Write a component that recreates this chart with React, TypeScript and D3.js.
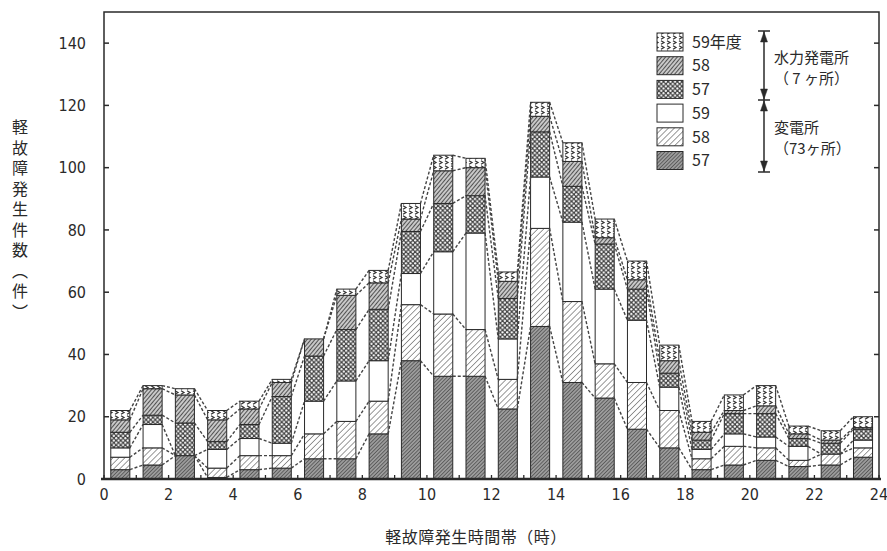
import * as d3 from 'd3';

// hour slots 0..23 (bar i covers i:00 - i+1:00)
const hours = [0, 1, 2, 3, 4, 5, 6, 7, 8, 9, 10, 11, 12, 13, 14, 15, 16, 17, 18, 19, 20, 21, 22, 23];
const xTicks = [0, 2, 4, 6, 8, 10, 12, 14, 16, 18, 20, 22, 24];
const yTicks = [0, 20, 40, 60, 80, 100, 120, 140];

// 変電所 (substations), fiscal 57 / 58 / 59
const sub57 = [3, 4.5, 7.5, 0.5, 3, 3.5, 6.5, 6.5, 14.5, 38, 33, 33, 22.5, 49, 31, 26, 16, 10, 3, 4.5, 6, 4, 4.5, 7];
const sub58 = [4, 5.5, 0, 3, 4.5, 4, 8, 12, 10.5, 18, 20, 15, 9.5, 31.5, 26, 11, 15, 12, 3.5, 6, 4, 2, 3.5, 3];
const sub59 = [3, 7.5, 0, 6, 5.5, 4, 10.5, 13, 13, 10, 20, 31, 13, 16.5, 25.5, 24, 20, 7.5, 3, 4, 3.5, 4.5, 0, 2.5];
// 水力発電所 (hydro plants), fiscal 57 / 58 / 59
const hyd57 = [5, 3, 10.5, 2.5, 4.5, 15, 14.5, 16.5, 16.5, 13.5, 15.5, 12, 13, 14.5, 11.5, 14.5, 10, 4.5, 3, 6.5, 7.5, 2.5, 3.5, 3.5];
const hyd58 = [4, 8.5, 9, 7, 5, 4.5, 5.5, 11, 8.5, 4, 10.5, 9, 5.5, 5, 8, 2, 3, 4, 2.5, 1, 2.5, 1.5, 1, 0.5];
const hyd59 = [3, 1, 2, 3, 2.5, 1, 0, 2, 4, 5, 5, 3, 3, 4.5, 6, 6, 6, 5, 3.5, 5, 6.5, 2.5, 3, 3.5];

const keys = ['sub57', 'sub58', 'sub59', 'hyd57', 'hyd58', 'hyd59'];
const fills: Record<string, string> = {
  sub57: 'url(#p-s57)',
  sub58: 'url(#p-s58)',
  sub59: '#ffffff',
  hyd57: 'url(#p-h57)',
  hyd58: 'url(#p-h58)',
  hyd59: 'url(#p-h59)',
};
// legend, top to bottom
const legendKeys = ['hyd59', 'hyd58', 'hyd57', 'sub59', 'sub58', 'sub57'];
const legendLabels = ['59年度', '58', '57', '59', '58', '57'];

const W = 887;
const H = 551;
const ink = '#2a2a2a';
const numFont = "'Liberation Sans Narrow', 'DejaVu Sans Condensed', 'Liberation Sans', sans-serif";
const jpFont = "'Noto Sans CJK JP', 'Noto Sans', sans-serif";

export default function App() {
  const x = d3.scaleLinear().domain([0, 24]).range([104, 879]);
  const y = d3.scaleLinear().domain([0, 150]).range([479, 12]);

  const rows = hours.map((h, i) => ({
    hour: h,
    sub57: sub57[i],
    sub58: sub58[i],
    sub59: sub59[i],
    hyd57: hyd57[i],
    hyd58: hyd58[i],
    hyd59: hyd59[i],
  }));
  const stacked = d3.stack<any>().keys(keys)(rows);

  const bx0 = (h: number) => x(h + 0.21);
  const bx1 = (h: number) => x(h + 0.8);

  const [x0, x1] = x.range();
  const [yb, yt] = y.range();

  const legX = 657;
  const legY = 33;
  const legStep = 23.7;

  return (
    <svg width={W} height={H} style={{ position: 'absolute', left: 0, top: 0, background: '#fff' }}>
      <defs>
        <pattern id="p-s57" width="2.6" height="2.6" patternUnits="userSpaceOnUse" patternTransform="rotate(45)">
          <rect width="2.6" height="2.6" fill="#9c9c9c" />
          <line x1="0" y1="0" x2="0" y2="2.6" stroke="#3a3a3a" strokeWidth="1.2" />
        </pattern>
        <pattern id="p-s58" width="4.2" height="4.2" patternUnits="userSpaceOnUse" patternTransform="rotate(45)">
          <rect width="4.2" height="4.2" fill="#fff" />
          <line x1="0" y1="0" x2="0" y2="4.2" stroke="#4a4a4a" strokeWidth="1.1" />
        </pattern>
        <pattern id="p-h57" width="4.6" height="4.6" patternUnits="userSpaceOnUse">
          <rect width="4.6" height="4.6" fill="#444" />
          <circle cx="1.15" cy="1.15" r="1.1" fill="#fff" />
          <circle cx="3.45" cy="3.45" r="1.1" fill="#fff" />
        </pattern>
        <pattern id="p-h58" width="3" height="3" patternUnits="userSpaceOnUse" patternTransform="rotate(40)">
          <rect width="3" height="3" fill="#c8c8c8" />
          <line x1="0" y1="0" x2="0" y2="3" stroke="#2a2a2a" strokeWidth="1.5" />
        </pattern>
        <pattern id="p-h59" width="6" height="5" patternUnits="userSpaceOnUse">
          <rect width="6" height="5" fill="#fff" />
          <path d="M1,0.8 L4,2.5 L1,4.2" fill="none" stroke="#333" strokeWidth="1.2" />
        </pattern>
      </defs>

      {/* bars */}
      {stacked.map((layer) => (
        <g key={layer.key}>
          {layer.map((d, i) =>
            d[1] - d[0] > 0 ? (
              <rect
                key={i}
                x={bx0(hours[i])}
                y={y(d[1])}
                width={bx1(hours[i]) - bx0(hours[i])}
                height={y(d[0]) - y(d[1])}
                fill={fills[layer.key]}
                stroke={ink}
                strokeWidth={1}
              />
            ) : null
          )}
        </g>
      ))}

      {/* dashed connectors between matching boundaries of adjacent bars */}
      {stacked.map((layer) => (
        <g key={`c-${layer.key}`}>
          {hours.slice(0, -1).map((h, i) => (
            <line
              key={i}
              x1={bx1(h)}
              y1={y(layer[i][1])}
              x2={bx0(hours[i + 1])}
              y2={y(layer[i + 1][1])}
              stroke="#444"
              strokeWidth={1.4}
              strokeDasharray="3 2"
            />
          ))}
        </g>
      ))}

      {/* frame */}
      <rect x={x0} y={yt} width={x1 - x0} height={yb - yt} fill="none" stroke={ink} strokeWidth={1.5} />
      <line x1={x0 - 3} x2={x1 + 2} y1={yb} y2={yb} stroke={ink} strokeWidth={2.5} />

      {/* y axis */}
      {yTicks.map((t) => (
        <g key={`y${t}`}>
          <line x1={x0} x2={x0 + 5} y1={y(t)} y2={y(t)} stroke={ink} strokeWidth={1.5} />
          <line x1={x1 - 5} x2={x1} y1={y(t)} y2={y(t)} stroke={ink} strokeWidth={1.5} />
          <text
            x={x0 - 18}
            y={y(t)}
            dy="0.36em"
            textAnchor="end"
            fontSize={16}
            fontFamily={numFont}
            fill={ink}
          >
            {t}
          </text>
        </g>
      ))}

      {/* x axis */}
      {d3.range(0, 25).map((t) => (
        <line key={`xm${t}`} x1={x(t)} x2={x(t)} y1={yb} y2={yb - 4} stroke={ink} strokeWidth={1.3} />
      ))}
      {xTicks.map((t) => (
        <text
          key={`x${t}`}
          x={x(t)}
          y={500}
          textAnchor="middle"
          fontSize={16}
          fontFamily={numFont}
          fill={ink}
        >
          {t}
        </text>
      ))}

      {/* axis titles */}
      <text x={476} y={543} textAnchor="middle" fontSize={16} fontFamily={jpFont} fill={ink} letterSpacing={0.5}>
        軽故障発生時間帯（時）
      </text>
      <text
        x={20}
        y={119}
        fontSize={16}
        fontFamily={jpFont}
        fill={ink}
        letterSpacing={4.5}
        style={{ writingMode: 'vertical-rl' }}
      >
        軽故障発生件数（件）
      </text>

      {/* legend */}
      {legendKeys.map((k, i) => (
        <g key={`lg${i}`}>
          <rect
            x={legX}
            y={legY + i * legStep}
            width={26}
            height={18}
            fill={fills[k]}
            stroke={ink}
            strokeWidth={1}
          />
          <text
            x={legX + 35}
            y={legY + i * legStep + 9}
            dy="0.36em"
            fontSize={16}
            fontFamily={jpFont}
            fill={ink}
          >
            {legendLabels[i]}
          </text>
        </g>
      ))}

      {/* brackets */}
      <g stroke={ink} strokeWidth={1.5} fill={ink}>
        <line x1={764} x2={764} y1={31} y2={172} />
        <line x1={758} x2={770} y1={31} y2={31} />
        <line x1={758} x2={770} y1={100} y2={100} />
        <line x1={758} x2={770} y1={172} y2={172} />
        <path d="M764,32 L760.5,42 L767.5,42 Z" strokeWidth={0.5} />
        <path d="M764,99 L760.5,89 L767.5,89 Z" strokeWidth={0.5} />
        <path d="M764,101 L760.5,111 L767.5,111 Z" strokeWidth={0.5} />
        <path d="M764,171 L760.5,161 L767.5,161 Z" strokeWidth={0.5} />
      </g>
      <g fontSize={15} fontFamily={jpFont} fill={ink}>
        <text x={774} y={63}>水力発電所</text>
        <text x={774} y={84}>（ 7 ヶ所）</text>
        <text x={774} y={133}>変電所</text>
        <text x={774} y={154}>（73ヶ所）</text>
      </g>
    </svg>
  );
}
